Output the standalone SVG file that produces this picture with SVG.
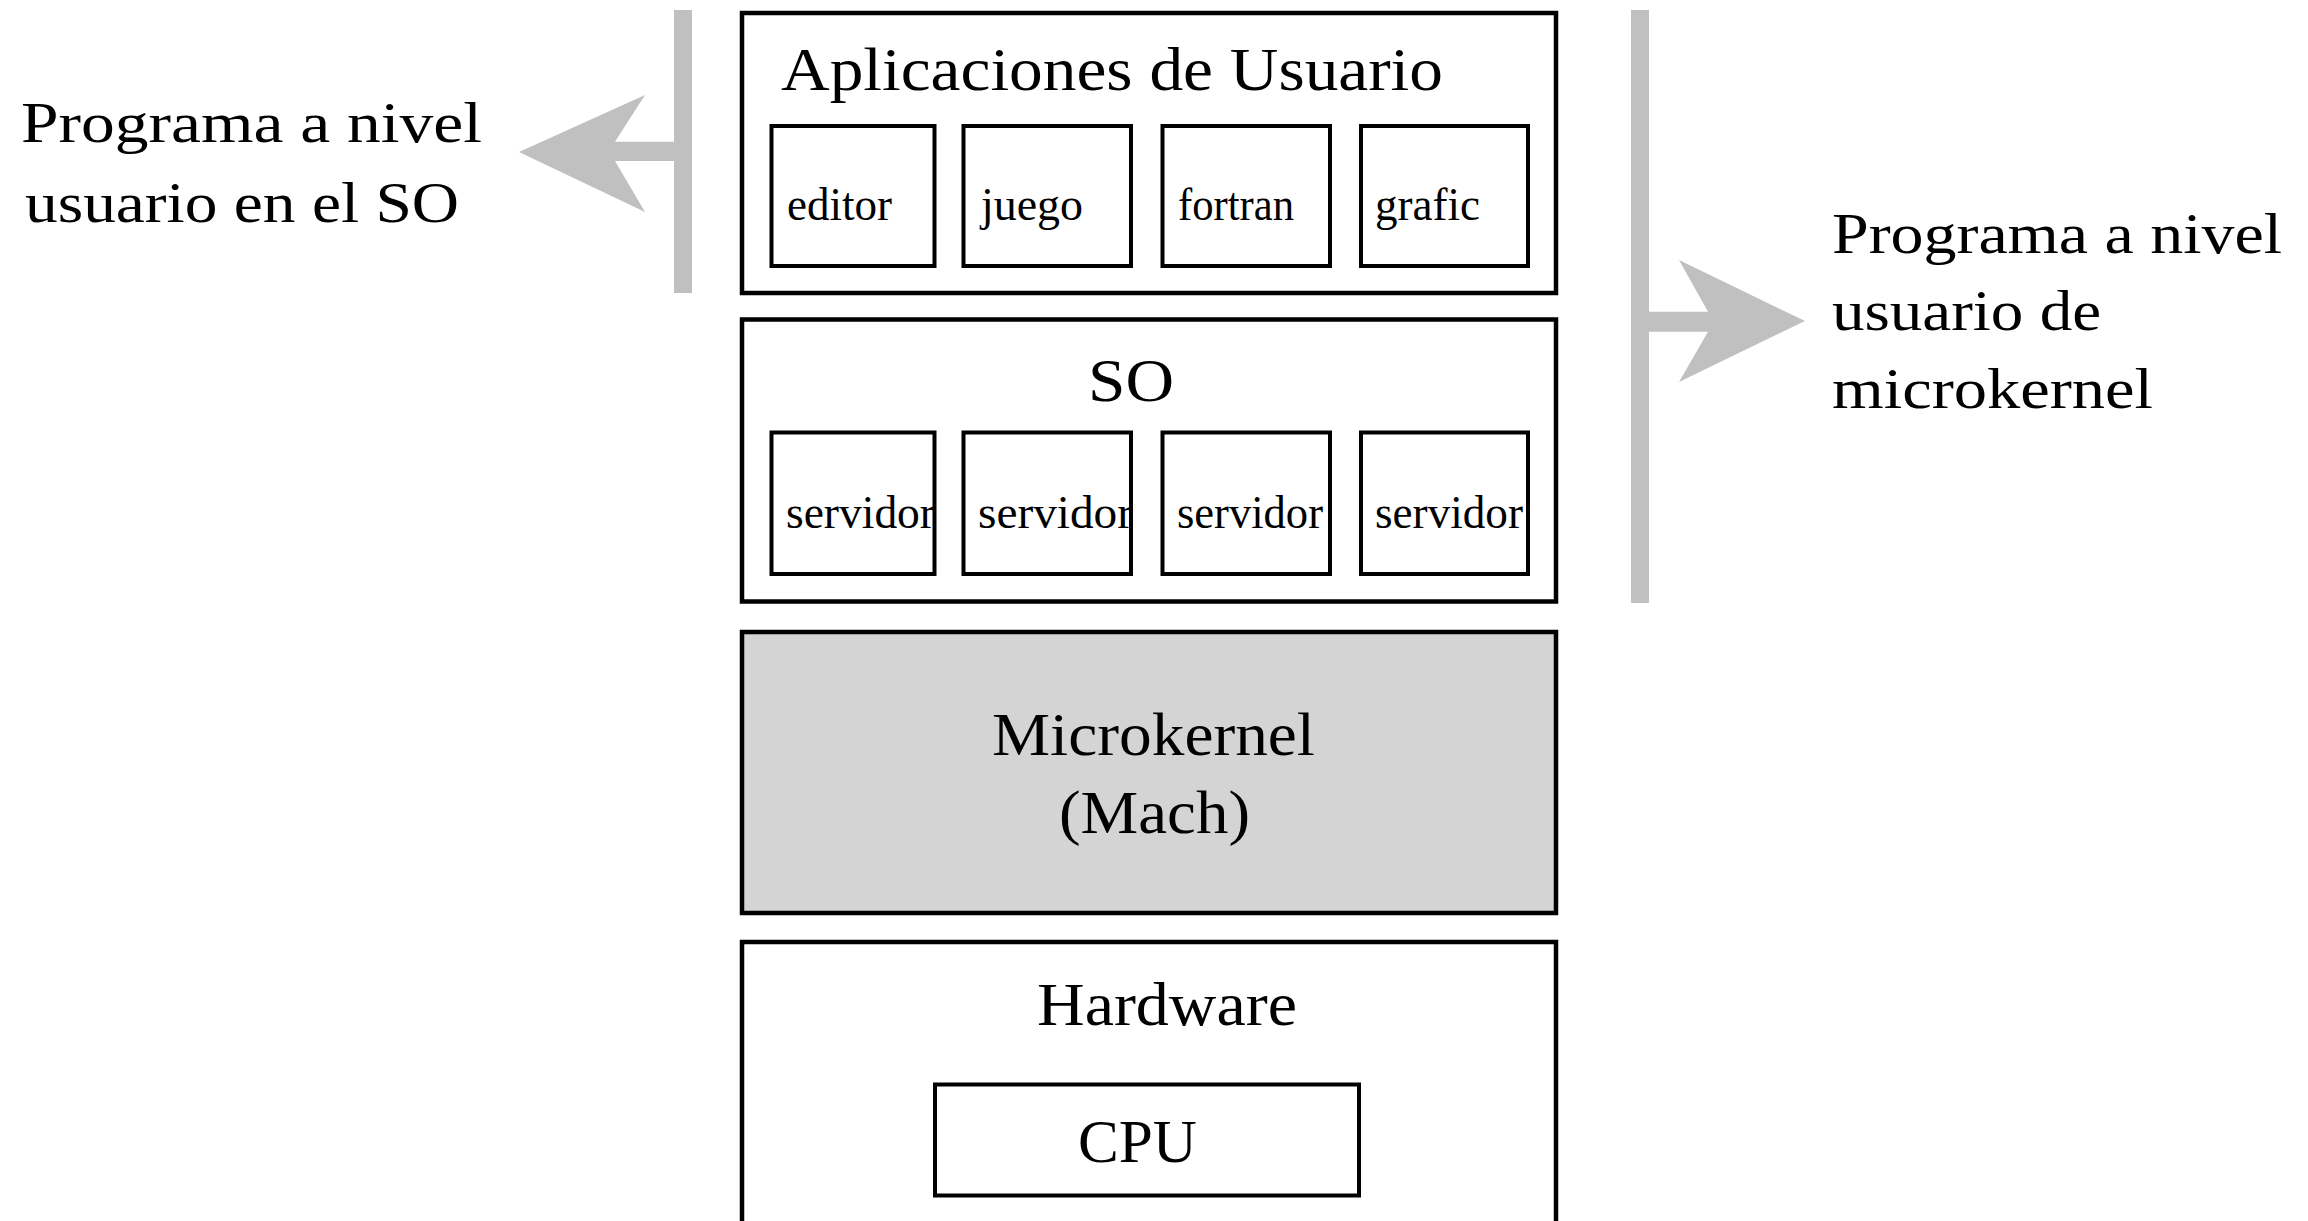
<svg xmlns="http://www.w3.org/2000/svg" width="2308" height="1221" viewBox="0 0 2308 1221">
<style>
.box{fill:#ffffff;stroke:#000000;stroke-width:4.5}
.inner{fill:#ffffff;stroke:#000000;stroke-width:4}
.kernel{fill:#d4d4d4;stroke:#000000;stroke-width:4.5}
.big{font-family:"Liberation Serif","Times New Roman",serif;font-size:62px;fill:#000000}
.side{font-family:"Liberation Serif","Times New Roman",serif;font-size:56px;fill:#000000}
.small{font-family:"Liberation Serif","Times New Roman",serif;font-size:46px;fill:#000000}
.gray{fill:#c0c0c0}
</style>
<rect x="0" y="0" width="2308" height="1221" fill="#ffffff"/>
<g id="connectors">
  <rect class="gray" x="674" y="10" width="18" height="283"/>
  <path class="gray" d="M674,141.7 L615,141.7 L645,95 L519,152 L645,212 L615,161 L674,161 Z"/>
  <rect class="gray" x="1631" y="10" width="18" height="593"/>
  <path class="gray" d="M1649,311.7 L1708,311.7 L1679,260 L1805,321 L1679,382 L1708,331.7 L1649,331.7 Z"/>
</g>
<g id="label-left">
  <text class="side" x="21" y="142" textLength="461" lengthAdjust="spacingAndGlyphs">Programa a nivel</text>
  <text class="side" x="25" y="222" textLength="434" lengthAdjust="spacingAndGlyphs">usuario en el SO</text>
</g>
<g id="label-right">
  <text class="side" x="1832" y="253" textLength="450" lengthAdjust="spacingAndGlyphs">Programa a nivel</text>
  <text class="side" x="1832" y="330" textLength="269" lengthAdjust="spacingAndGlyphs">usuario de</text>
  <text class="side" x="1832" y="408" textLength="321" lengthAdjust="spacingAndGlyphs">microkernel</text>
</g>
<g id="apps">
  <rect class="box" x="742" y="13" width="814" height="280"/>
  <text class="big" x="781" y="90" textLength="662" lengthAdjust="spacingAndGlyphs">Aplicaciones de Usuario</text>
  <g id="app-editor">
    <rect class="inner" x="771.5" y="126" width="163" height="140"/>
    <text class="small" x="787" y="220" textLength="105" lengthAdjust="spacingAndGlyphs">editor</text>
  </g>
  <g id="app-juego">
    <rect class="inner" x="963.5" y="126" width="167.5" height="140"/>
    <text class="small" x="981" y="220" textLength="102" lengthAdjust="spacingAndGlyphs">juego</text>
  </g>
  <g id="app-fortran">
    <rect class="inner" x="1162.5" y="126" width="167.5" height="140"/>
    <text class="small" x="1178" y="220" textLength="116" lengthAdjust="spacingAndGlyphs">fortran</text>
  </g>
  <g id="app-grafic">
    <rect class="inner" x="1361" y="126" width="167" height="140"/>
    <text class="small" x="1375" y="220" textLength="105" lengthAdjust="spacingAndGlyphs">grafic</text>
  </g>
</g>
<g id="so">
  <rect class="box" x="742" y="319.5" width="814" height="282"/>
  <text class="big" x="1088" y="401" textLength="86" lengthAdjust="spacingAndGlyphs">SO</text>
  <g id="srv-1">
    <rect class="inner" x="771.5" y="432.5" width="163" height="141.5"/>
    <text class="small" x="786" y="528" textLength="149" lengthAdjust="spacingAndGlyphs">servidor</text>
  </g>
  <g id="srv-2">
    <rect class="inner" x="963.5" y="432.5" width="167.5" height="141.5"/>
    <text class="small" x="978" y="528" textLength="155" lengthAdjust="spacingAndGlyphs">servidor</text>
  </g>
  <g id="srv-3">
    <rect class="inner" x="1162.5" y="432.5" width="167.5" height="141.5"/>
    <text class="small" x="1177" y="528" textLength="146" lengthAdjust="spacingAndGlyphs">servidor</text>
  </g>
  <g id="srv-4">
    <rect class="inner" x="1361" y="432.5" width="167" height="141.5"/>
    <text class="small" x="1375" y="528" textLength="148" lengthAdjust="spacingAndGlyphs">servidor</text>
  </g>
</g>
<g id="microkernel">
  <rect class="kernel" x="742" y="632" width="814" height="281"/>
  <text class="big" x="992" y="755" textLength="323" lengthAdjust="spacingAndGlyphs">Microkernel</text>
  <text class="big" x="1059" y="833" textLength="191" lengthAdjust="spacingAndGlyphs">(Mach)</text>
</g>
<g id="hardware">
  <rect class="box" x="742" y="942" width="814" height="300"/>
  <text class="big" x="1037" y="1025" textLength="260" lengthAdjust="spacingAndGlyphs">Hardware</text>
  <g id="cpu">
    <rect class="inner" x="935" y="1084.5" width="424" height="111"/>
    <text class="big" x="1078" y="1162" textLength="119" lengthAdjust="spacingAndGlyphs">CPU</text>
  </g>
</g>
</svg>
